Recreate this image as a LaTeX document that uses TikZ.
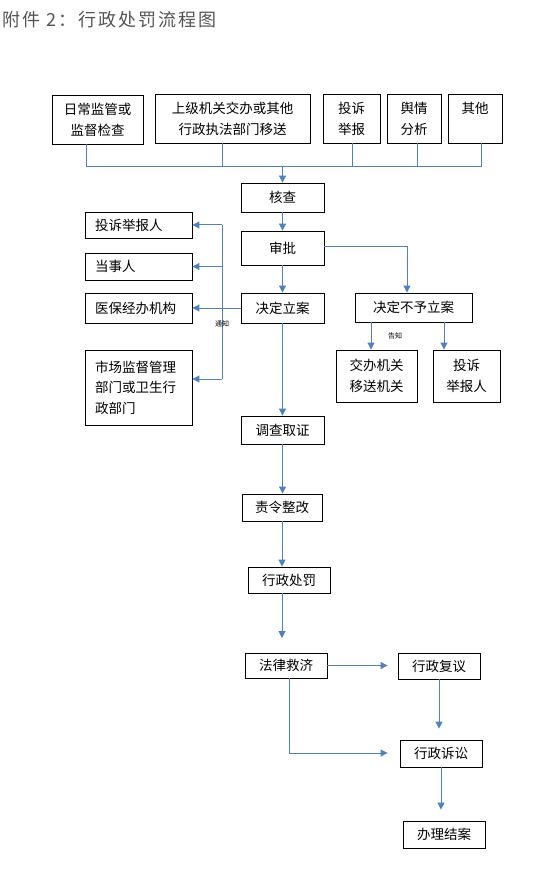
\documentclass[tikz,border=0pt]{standalone}
\usepackage{fontspec}
\setmainfont{Noto Sans CJK SC}
\usetikzlibrary{arrows.meta}
\definecolor{lnc}{RGB}{79,129,189}
\definecolor{titlegray}{RGB}{85,85,85}
\begin{document}
\begin{tikzpicture}[x=1pt,y=-1pt,
  box/.style={draw=black, line width=0.9pt, inner sep=0pt, align=center,
    font=\fontsize{13.5}{21}\selectfont},
  lbox/.style={box, align=left, inner xsep=10pt},
  conn/.style={draw=lnc, line width=1pt},
  arr/.style={conn, -{Triangle[width=7pt,length=7pt]}},
  tiny/.style={font=\fontsize{7}{8}\selectfont, inner sep=0pt}]
\fill[white] (0,0) rectangle (554,874);
\useasboundingbox (0,0) rectangle (554,874);

% title
\node[anchor=west, inner sep=0pt, text=titlegray,
  font=\fontsize{18}{20}\selectfont\addfontfeatures{LetterSpace=11}] (title) at (2,20) {附件 2：行政处罚流程图};

% top row
\node[box, minimum width=91, minimum height=49] (rc) at (97.5,119.5) {日常监管或\\监督检查};
\node[box, minimum width=155, minimum height=49] (sj) at (232.5,118.5) {上级机关交办或其他\\行政执法部门移送};
\node[box, minimum width=57, minimum height=49] (ts) at (351.5,118.5) {投诉\\举报};
\node[box, minimum width=54, minimum height=49] (yq) at (414,118.5) {舆情\\分析};
\node[box, minimum width=54, minimum height=49] (qt) at (475,118.5) {其他\\~};

\coordinate (b1) at (86,167);
\coordinate (b2) at (222,167);
\coordinate (b3) at (352,167);
\coordinate (b4) at (417,167);
\coordinate (b5) at (481,167);
\draw[conn] (rc.south -| b1) -- (b1);
\draw[conn] (sj.south -| b2) -- (b2);
\draw[conn] (ts.south -| b3) -- (b3);
\draw[conn] (yq.south -| b4) -- (b4);
\draw[conn] (qt.south -| b5) -- (b5);
\draw[conn] (b1) -- (b5);

% central chain
\node[box, minimum width=83, minimum height=29] (hc) at (282.5,197.5) {核查};
\node[box, minimum width=83, minimum height=34] (sp) at (282.5,248) {审批};
\node[box, minimum width=83, minimum height=30] (la) at (282.5,308) {决定立案};
\node[box, minimum width=117, minimum height=29] (bu) at (413.5,307.5) {决定不予立案};
\node[box, minimum width=81, minimum height=52] (jb) at (376.5,376) {交办机关\\移送机关};
\node[box, minimum width=67, minimum height=52] (tr) at (466.5,376) {投诉\\举报人};

\draw[arr] (hc.north |- b1) -- (hc.north);
\draw[arr] (hc) -- (sp);
\draw[arr] (sp) -- (la);
\coordinate (bk) at (407,247);
\draw[arr] (sp.east |- bk) -- (bk) -- (bk |- bu.north);
\coordinate (ga) at (371,322);
\coordinate (gb) at (444,322);
\draw[arr] (ga) -- (ga |- jb.north);
\draw[arr] (gb) -- (gb |- tr.north);
\node[tiny] (gz) at (395,336) {告知};

% left notifications
\node[lbox, text width=87, minimum height=26] (l1) at (138.5,225) {投诉举报人};
\node[lbox, text width=87, minimum height=27] (l2) at (138.5,266.5) {当事人};
\node[lbox, text width=87, minimum height=30] (l3) at (138.5,308) {医保经办机构};
\node[lbox, text width=87, minimum height=75, font=\fontsize{13.5}{20.5}\selectfont] (l4) at (138.5,387.5) {市场监督管理\\部门或卫生行\\政部门};

\draw[arr] (la.west) -- (l3.east);
\coordinate (vt) at (222,225);
\coordinate (vb) at (222,379);
\draw[conn] (vt) -- (vb);
\draw[arr] (vt) -- (vt -| l1.east);
\draw[arr] (vt |- l2.east) -- (l2.east);
\draw[arr] (vb) -- (vb -| l4.east);
\node[tiny] (tz) at (222,324) {通知};

% lower chain
\node[box, minimum width=83, minimum height=28] (dc) at (282.5,430) {调查取证};
\node[box, minimum width=80, minimum height=27] (zl) at (282,507.5) {责令整改};
\node[box, minimum width=82, minimum height=26] (xc) at (289,580) {行政处罚};
\node[box, minimum width=82, minimum height=25] (fl) at (286,665.5) {法律救济};
\node[box, minimum width=82, minimum height=26] (fy) at (439,666) {行政复议};
\node[box, minimum width=82, minimum height=27] (fs) at (441,753.5) {行政诉讼};
\node[box, minimum width=82, minimum height=27] (bj) at (444,834.5) {办理结案};

\draw[arr] (la) -- (la |- dc.north);
\draw[arr] (dc.south) -- (dc.south |- zl.north);
\draw[arr] (zl.south) -- (zl.south |- xc.north);
\coordinate (xe) at (282,638);
\draw[arr] (xc.south -| xe) -- (xe);
\draw[arr, shorten >=10pt] (fl.east) -- (fl.east -| fy.west);
\draw[arr, shorten >=11pt] (fy.south) -- (fy.south |- fs.north);
\coordinate (fk) at (289,753);
\draw[arr, shorten >=12pt] (fl.south -| fk) -- (fk) -- (fk -| fs.west);
\draw[arr, shorten >=11pt] (fs.south) -- (fs.south |- bj.north);
\end{tikzpicture}
\end{document}
